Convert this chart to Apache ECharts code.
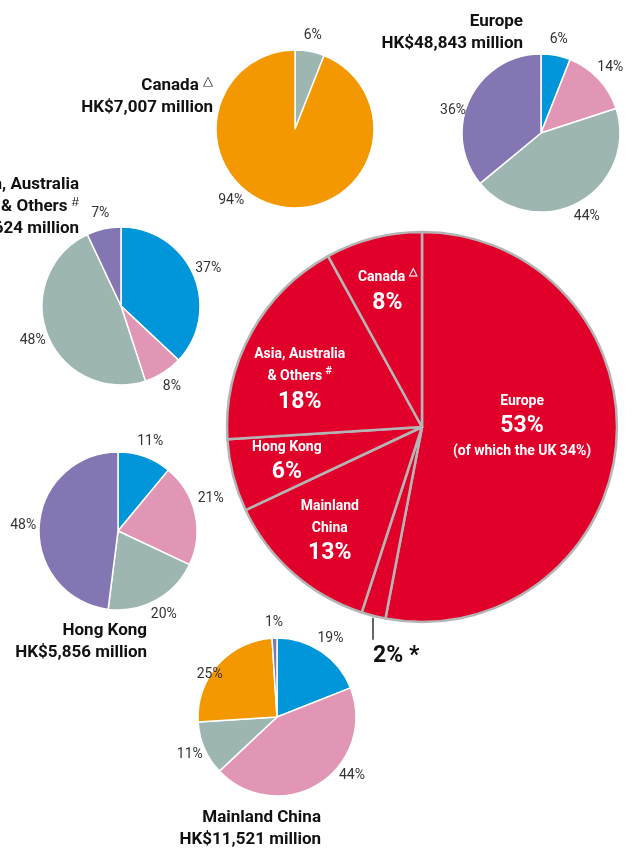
<!DOCTYPE html>
<html>
<head>
<meta charset="utf-8">
<script src="https://cdn.jsdelivr.net/npm/echarts@6/dist/echarts.min.js"></script>
<style>
  html, body { margin: 0; padding: 0; background: #fff; }
  #main { width: 632px; height: 848px; }
</style>
</head>
<body>
<div id="main"></div>
<script>
// share of total by region (big pie), clockwise from 12 o'clock
var regionNames = ['Europe', 'Others', 'Mainland China', 'Hong Kong', 'Asia, Australia & Others', 'Canada'];
var regionShares = [53, 2, 13, 6, 18, 8];
var regionLabelNames = ['Europe', '', 'Mainland\nChina', 'Hong Kong', 'Asia, Australia\n& Others', 'Canada'];
var regionMarks = ['', '*', '', '', '#', '△'];
var regionNotes = ['(of which the UK 34%)', '', '', '', '', ''];

// breakdown inside each region (small pies), same segment order everywhere
var segmentNames = ['Segment 1', 'Segment 2', 'Segment 3', 'Segment 4', 'Segment 5'];
var segmentColors = ['#0096d9', '#e096b4', '#9eb6b2', '#f39800', '#8476b2'];
var canadaValues = [0, 0, 6, 94, 0];
var europeValues = [6, 14, 44, 0, 36];
var asiaValues = [37, 8, 48, 0, 7];
var hongKongValues = [11, 21, 20, 0, 48];
var mainlandValues = [19, 44, 11, 25, 1];

var FONT = "Roboto, 'Open Sans', sans-serif";
var BIG_CENTER = [422, 427];
var BIG_R = 195;
var SMALL_R = 79;

var myChart = echarts.init(document.getElementById('main'));

// mid angle of every slice, radians clockwise from 12 o'clock
function midAngles(values) {
    var sum = values.reduce(function (a, b) { return a + b; }, 0);
    var acc = 0;
    return values.map(function (v) {
        var a = (acc + v / 2) / sum * Math.PI * 2;
        acc += v;
        return a;
    });
}

function mainLabel(i) {
    var s = '';
    var lines = regionLabelNames[i].split('\n');
    lines.forEach(function (l, k) {
        s += '{n|' + l + '}';
        if (k === lines.length - 1 && regionMarks[i]) s += ' {s|' + regionMarks[i] + '}';
        s += '\n';
    });
    s += '{p|' + regionShares[i] + '%}';
    if (regionNotes[i]) s += '\n{n|' + regionNotes[i] + '}';
    return s;
}

var whiteRich = {
    n: { color: '#fff', fontSize: 14, fontWeight: 'bold', fontFamily: FONT, lineHeight: 22 },
    s: { color: '#fff', fontSize: 11, fontWeight: 'bold', fontFamily: FONT, verticalAlign: 'top', lineHeight: 22 },
    p: { color: '#fff', fontSize: 23, fontWeight: 'bold', fontFamily: FONT, lineHeight: 28 }
};

var othersIndex = regionNames.indexOf('Others');
var regionMid = midAngles(regionShares);

// base red pie: draws slices, Europe label inside and the small 2% label outside
var baseData = regionNames.map(function (name, i) {
    var item = { name: name, value: regionShares[i], label: { show: false } };
    if (i === 0) {
        item.label = { show: true, position: 'inside', formatter: mainLabel(0), rich: whiteRich };
    }
    if (i === othersIndex) {
        item.label = {
            show: true, position: 'outside',
            formatter: regionShares[i] + '% ' + regionMarks[i],
            color: '#111', fontSize: 23, fontWeight: 'bold', fontFamily: FONT
        };
        item.labelLine = { show: true, length: 20, length2: 0, lineStyle: { color: '#333', width: 1.5 } };
    }
    return item;
});

// transparent ring over the red pie, only to carry the other labels further out
var ringData = regionNames.map(function (name, i) {
    var show = i !== 0 && i !== othersIndex;
    return { name: name, value: regionShares[i], label: { show: show, formatter: mainLabel(i) } };
});

// small manual label nudges, as in the printed layout
var ringNudge = { 'Asia, Australia & Others': [0, 20] };
var europeNudge = [0, -10];

function smallPie(values, center, nudges) {
    var data = [];
    var kept = [];
    values.forEach(function (v, i) {
        if (v > 0) {
            data.push({ name: segmentNames[i], value: v, itemStyle: { color: segmentColors[i] } });
            kept.push(v);
        }
    });
    var mids = midAngles(kept);
    nudges = nudges || {};
    return {
        type: 'pie',
        center: center,
        radius: SMALL_R,
        startAngle: 90,
        clockwise: true,
        avoidLabelOverlap: false,
        silent: true,
        animation: false,
        itemStyle: { borderColor: '#fff', borderWidth: 1.5 },
        label: {
            show: true, position: 'outside', formatter: '{c}%',
            color: '#333', fontSize: 14, fontFamily: FONT
        },
        labelLine: { show: false, length: 6, length2: 0 },
        labelLayout: function (p) {
            var a = mids[p.dataIndex];
            var d = SMALL_R + 16;
            var n = nudges[p.dataIndex] || [0, 0];
            return {
                x: center[0] + Math.sin(a) * d + n[0],
                y: center[1] - Math.cos(a) * d + n[1],
                align: 'center', verticalAlign: 'middle', hideOverlap: false
            };
        },
        data: data
    };
}

function title(lines, x, y) {
    return {
        type: 'text', x: x, y: y,
        style: {
            text: lines, fill: '#111', fontSize: 17, fontWeight: 'bold', fontFamily: FONT,
            align: 'right', lineHeight: 22,
            rich: { s: { fontSize: 13, fontWeight: 'normal', verticalAlign: 'top', fill: '#111' } }
        }
    };
}

var option = {
    backgroundColor: '#fff',
    graphic: [
        title('Canada {s|△}\nHK$7,007 million', 213, 75),
        title('Europe\nHK$48,843 million', 523, 11),
        title('Asia, Australia\n& Others {s|#}\nHK$16,624 million', 79, 174),
        title('Hong Kong\nHK$5,856 million', 147, 620),
        title('Mainland China\nHK$11,521 million', 321, 807)
    ],
    series: [
        {
            type: 'pie',
            center: BIG_CENTER,
            radius: BIG_R,
            startAngle: 90,
            clockwise: true,
            avoidLabelOverlap: false,
            silent: true,
            animation: false,
            itemStyle: { color: '#e0002a', borderColor: '#b5b5b5', borderWidth: 2.5 },
            labelLayout: function (p) {
                if (p.dataIndex === 0) return { dx: europeNudge[0], dy: europeNudge[1] };
                if (p.dataIndex !== othersIndex) return {};
                var a = regionMid[othersIndex];
                var ex = BIG_CENTER[0] + Math.sin(a) * (BIG_R + 2);
                var ey = BIG_CENTER[1] - Math.cos(a) * (BIG_R + 2);
                return {
                    x: ex, y: ey + 38, align: 'left', verticalAlign: 'middle',
                    labelLinePoints: [[ex, ey], [ex, ey + 22], [ex, ey + 22]]
                };
            },
            data: baseData
        },
        {
            type: 'pie',
            center: BIG_CENTER,
            radius: [78, BIG_R],
            startAngle: 90,
            clockwise: true,
            silent: true,
            animation: false,
            itemStyle: { color: 'rgba(0,0,0,0)', borderWidth: 0 },
            label: { position: 'inside', rich: whiteRich },
            labelLine: { show: false },
            labelLayout: function (p) {
                var n = ringNudge[regionNames[p.dataIndex]];
                return n ? { dx: n[0], dy: n[1] } : {};
            },
            data: ringData
        },
        smallPie(canadaValues, [295, 129], { 1: [-46, -22] }),
        smallPie(europeValues, [541, 133], { 3: [-2, 18] }),
        smallPie(asiaValues, [121, 306]),
        smallPie(hongKongValues, [118, 531], { 1: [0, -12] }),
        smallPie(mainlandValues, [277, 717], { 1: [24, -22], 3: [4, 20] })
    ]
};
myChart.setOption(option);
</script>
</body>
</html>
